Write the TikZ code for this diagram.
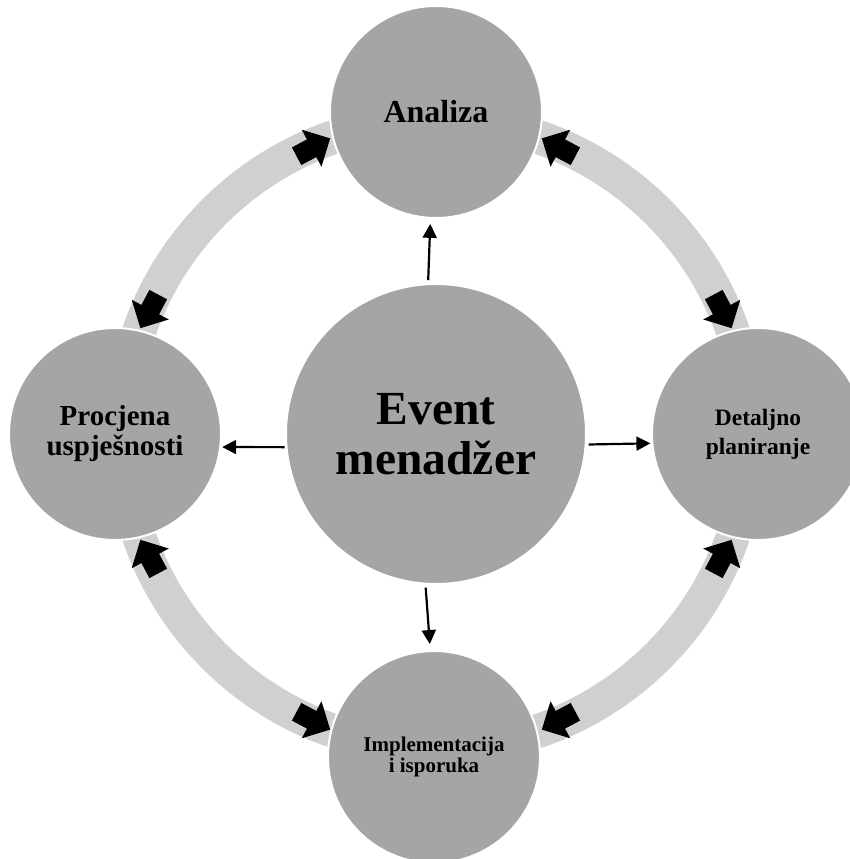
\documentclass[tikz,border=0pt]{standalone}
\usepackage{fontspec}
\setmainfont{Liberation Serif}
\usetikzlibrary{arrows.meta}
\definecolor{satgray}{HTML}{A5A5A5}
\definecolor{ringgray}{HTML}{D0D0D0}
\newcommand\cycarrow[2]{\fill[black, shift={(#1:314)}, rotate=#2] (0,0) -- (-21,21) -- (-21,10) -- (-38,10) -- (-38,-10) -- (-21,-10) -- (-21,-21) -- cycle;}
\begin{document}
\begin{tikzpicture}[x=1pt,y=1pt,
  bubble/.style={circle, fill=satgray, draw=white, line width=2pt, inner sep=0pt, align=center},
  sat/.style={bubble, minimum size=212pt},
  ring/.style={draw=ringgray, line width=34pt},
  conn/.style={line width=2.2pt, -{Triangle[length=14pt,width=14pt]}}
]
\useasboundingbox (-436,-425) rectangle (414,434);
\clip (-436,-425) rectangle (414,434);
% ring band
\draw[ring] (0,0) circle (314);
% black block arrows at the band ends
\cycarrow{109.7}{28}
\cycarrow{160.3}{242}
\cycarrow{70.3}{152}
\cycarrow{19.7}{-62}
\cycarrow{-19.7}{62}
\cycarrow{-70.3}{-152}
\cycarrow{250.3}{-28}
\cycarrow{199.7}{118}
% satellites
\node[sat, font=\bfseries\fontsize{32}{34}\selectfont] (a) at (0,322) {Analiza};
\node[sat, font=\bfseries\fontsize{29}{30}\selectfont] (l) at (-321,0) {Procjena\\uspješnosti};
\node[sat, font=\bfseries\fontsize{23.5}{29}\selectfont] (r) at (322,0) {Detaljno\\planiranje};
\node[sat, font=\bfseries\fontsize{21}{21.6}\selectfont] (b) at (-2,-323) {Implementacija\\i isporuka};
% centre
\node[bubble, minimum size=300pt, font=\bfseries\fontsize{47.5}{50}\selectfont] (c) at (0,0) {Event\\menadžer};
% connectors
\draw[conn, shorten <=3pt, shorten >=5pt] (c.93) -- (a.267.4);
\draw[conn, shorten <=3pt, shorten >=6pt] (c.266.6) -- (b.92.6);
\draw[conn, shorten <=1pt, shorten >=1pt] (c.185.7) -- (l.-7);
\draw[conn, shorten <=2pt, shorten >=1pt] (c.-4.9) -- (r.185.3);
\end{tikzpicture}
\end{document}
